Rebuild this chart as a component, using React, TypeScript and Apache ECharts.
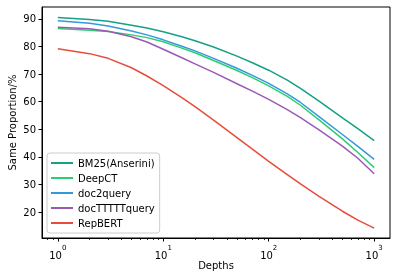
import React, { useEffect, useRef } from "react";
import * as echarts from "echarts";

const depths = [1, 2, 3, 5, 7, 10, 15, 20, 30, 50, 70, 100, 150, 200, 300, 500, 700, 1000];
const bm25 = [90.5, 89.8, 89.1, 87.7, 86.7, 85.3, 83.5, 82.1, 79.8, 76.5, 74.1, 71.4, 67.8, 64.8, 60.2, 54.1, 50.2, 45.9];
const deepct = [86.5, 85.9, 85.4, 84.2, 83.2, 81.7, 79.4, 77.7, 74.9, 71.3, 68.7, 65.7, 61.9, 58.7, 53.4, 46.5, 41.6, 36.1];
const doc2query = [89.3, 88.4, 87.4, 85.6, 84.2, 82.4, 80.1, 78.4, 75.7, 72.1, 69.5, 66.6, 62.8, 59.7, 54.6, 48.1, 43.8, 39.1];
const docT5 = [87.0, 86.4, 85.5, 83.5, 81.6, 79.0, 75.9, 73.7, 70.6, 66.5, 63.8, 60.8, 57.1, 54.2, 49.8, 43.9, 39.5, 33.9];
const repbert = [79.2, 77.4, 75.7, 72.3, 69.3, 65.8, 61.5, 58.2, 53.3, 47.0, 42.8, 38.4, 33.6, 30.2, 25.7, 20.3, 17.1, 14.2];

const seriesNames = ["BM25(Anserini)", "DeepCT", "doc2query", "docTTTTTquery", "RepBERT"];
const seriesData = [bm25, deepct, doc2query, docT5, repbert];
const colors = ["#16a085", "#2ecc71", "#3498db", "#9b59b6", "#e74c3c"];

const yTicks = [20, 30, 40, 50, 60, 70, 80, 90];
const minorXTicks = [0.8, 0.9, 2, 3, 4, 5, 6, 7, 8, 9, 20, 30, 40, 50, 60, 70, 80, 90, 200, 300, 400, 500, 600, 700, 800, 900];

const FONT = "DejaVu Sans";

export default function App() {
  const ref = useRef<HTMLDivElement>(null);
  useEffect(() => {
    if (!ref.current) return;
    const chart = echarts.init(ref.current, null, { renderer: "svg" });
    const xMin = Math.pow(10, -0.15);
    const xMax = Math.pow(10, 3.15);
    chart.setOption({
      animation: false,
      textStyle: { fontFamily: FONT },
      grid: {
        left: 42,
        right: 8,
        top: 7,
        bottom: 41,
        outerBoundsMode: "none",
        containLabel: false,
        show: true,
        borderColor: "#000",
        borderWidth: 1,
        backgroundColor: "transparent",
      },
      legend: {
        orient: "vertical",
        left: 47,
        top: 153,
        data: seriesNames,
        icon: "rect",
        itemWidth: 22,
        itemHeight: 2,
        itemGap: 3,
        padding: [4, 5, 4, 4],
        backgroundColor: "rgba(255,255,255,0.8)",
        borderColor: "#cccccc",
        borderWidth: 1,
        borderRadius: 3,
        textStyle: { fontFamily: FONT, fontSize: 10, color: "#000", lineHeight: 12 },
      },
      xAxis: [
        {
          type: "log",
          min: xMin,
          max: xMax,
          name: "Depths",
          nameLocation: "middle",
          nameGap: 22,
          nameMoveOverlap: false,
          nameTextStyle: { fontFamily: FONT, fontSize: 10, color: "#000" },
          axisLine: { show: true, onZero: false, lineStyle: { color: "#000", width: 1 } },
          axisTick: { show: true, inside: false, length: 3.5, lineStyle: { color: "#000", width: 1 } },
          splitLine: { show: false },
          axisLabel: {
            showMinLabel: false,
            showMaxLabel: false,
            margin: 6,
            color: "#000",
            formatter: (v: number) => `{b|10}{e|${Math.round(Math.log10(v))}}`,
            rich: {
              b: { fontFamily: FONT, fontSize: 10, color: "#000", lineHeight: 16, verticalAlign: "bottom" },
              e: { fontFamily: FONT, fontSize: 7, color: "#000", lineHeight: 16, verticalAlign: "top" },
            },
          },
        },
        {
          type: "value",
          min: -0.15,
          max: 3.15,
          position: "bottom",
          axisLine: { show: false, onZero: false },
          splitLine: { show: false },
          axisLabel: { show: false },
          axisTick: {
            show: true,
            inside: false,
            length: 2,
            customValues: minorXTicks.map((v) => Math.log10(v)),
            lineStyle: { color: "#000", width: 0.8 },
          },
        },
      ],
      yAxis: {
        type: "value",
        min: 10.6,
        max: 94.3,
        name: "Same Proportion/%",
        nameLocation: "middle",
        nameGap: 25,
        nameMoveOverlap: false,
        nameTextStyle: { fontFamily: FONT, fontSize: 10, color: "#000" },
        axisLine: { show: true, onZero: false, lineStyle: { color: "#000", width: 1 } },
        axisTick: { show: true, inside: false, length: 3.5, customValues: yTicks, lineStyle: { color: "#000", width: 1 } },
        splitLine: { show: false },
        axisLabel: { customValues: yTicks, margin: 6, fontFamily: FONT, fontSize: 10, color: "#000" },
      },
      series: seriesNames.map((name, i) => ({
        name,
        type: "line",
        xAxisIndex: 0,
        data: depths.map((d, j) => [d, seriesData[i][j]]),
        showSymbol: false,
        smooth: false,
        lineStyle: { color: colors[i], width: 1.5 },
        itemStyle: { color: colors[i] },
      })),
    });
    return () => chart.dispose();
  }, []);
  return <div ref={ref} style={{ position: "fixed", left: 0, top: 0, width: 398, height: 279 }} />;
}
